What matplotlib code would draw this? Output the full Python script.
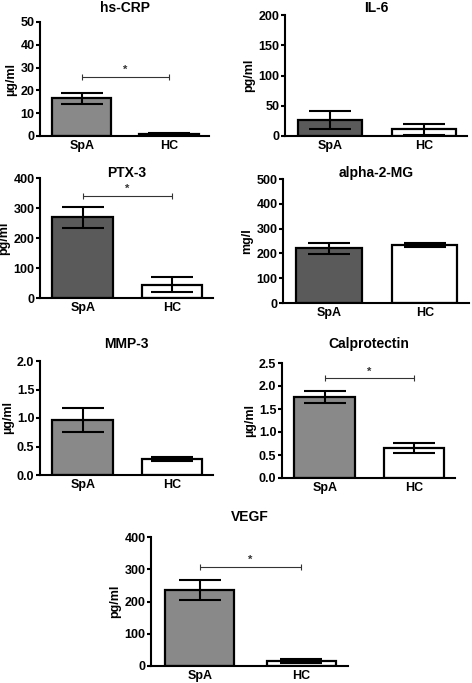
import matplotlib
matplotlib.use("Agg")
import matplotlib.pyplot as plt
import numpy as np

plt.rcParams['font.family'] = ['Liberation Sans', 'DejaVu Sans']
plt.rcParams['font.weight'] = 'bold'
plt.rcParams['axes.labelweight'] = 'bold'

groups = ["SpA", "HC"]

titles = ["hs-CRP", "IL-6", "PTX-3", "alpha-2-MG", "MMP-3", "Calprotectin", "VEGF"]
units = ["\u00b5g/ml", "pg/ml", "pg/ml", "mg/l", "\u00b5g/ml", "\u00b5g/ml", "pg/ml"]
means = [[16.5, 0.8], [27, 11], [270, 45], [220, 235], [0.96, 0.28], [1.76, 0.65], [237, 16]]
errs = [[2.5, 0.3], [15, 9], [35, 24], [23, 8], [0.21, 0.04], [0.13, 0.11], [31, 6]]
ymax = [50, 200, 400, 500, 2.0, 2.5, 400]
ystep = [10, 50, 100, 100, 0.5, 0.5, 100]
yfmt = ["%d", "%d", "%d", "%d", "%.1f", "%.1f", "%d"]
sig_y = [26, None, 340, None, None, 2.17, 308]
spa_colors = ["#898989", "#5a5a5a", "#5a5a5a", "#5a5a5a", "#898989", "#898989", "#898989"]
hc_colors = ["#898989", "white", "white", "white", "white", "white", "white"]

# axes boxes in pixels: left, right, top, bottom
boxes = [(40, 209, 22, 136), (285, 467, 15, 136), (40, 213, 178, 298),
         (283, 469, 179, 303), (40, 213, 361, 475), (282, 455, 363, 478),
         (151, 348, 537, 666)]
title_y = [8, 8, 173, 173, 344, 344, 517]

W, H = 472, 683
fig = plt.figure(figsize=(W / 100, H / 100), dpi=100)

for i in range(7):
    l, r, t, b = boxes[i]
    ax = fig.add_axes([l / W, 1 - b / H, (r - l) / W, (b - t) / H])
    x = np.arange(2)
    ax.bar(x, means[i], width=0.68, color=[spa_colors[i], hc_colors[i]],
           edgecolor="black", linewidth=1.6, zorder=2)
    ax.errorbar(x, means[i], yerr=errs[i], fmt="none", ecolor="black",
                elinewidth=1.5, capsize=15, capthick=1.5, zorder=3)
    if sig_y[i] is not None:
        ax.errorbar([0.5], [sig_y[i]], xerr=[0.5], fmt="none", ecolor="#333333",
                    elinewidth=0.8, capsize=2.5, capthick=0.8)
        ax.text(0.5, sig_y[i] + ymax[i] * 0.015, "*", ha="center", va="bottom",
                fontsize=8, color="#333333")
    ax.set_xlim(-0.48, 1.46)
    ax.set_ylim(0, ymax[i])
    yt = np.arange(0, ymax[i] + ystep[i] / 2, ystep[i])
    ax.set_yticks(yt)
    ax.set_yticklabels([yfmt[i] % v for v in yt])
    ax.set_xticks(x)
    ax.set_xticklabels(groups)
    ax.tick_params(axis="y", length=3, width=1.5, labelsize=9, pad=1)
    ax.tick_params(axis="x", length=0, labelsize=9, pad=3)
    for s in ["top", "right"]:
        ax.spines[s].set_visible(False)
    for s in ["left", "bottom"]:
        ax.spines[s].set_linewidth(1.5)
    ax.set_ylabel(units[i], fontsize=9, fontweight="bold", labelpad=2)
    fig.text(((l + r) / 2) / W, 1 - title_y[i] / H, titles[i], ha="center",
             va="center", fontsize=10, fontweight="bold")

fig.savefig("out.png", dpi=100)
